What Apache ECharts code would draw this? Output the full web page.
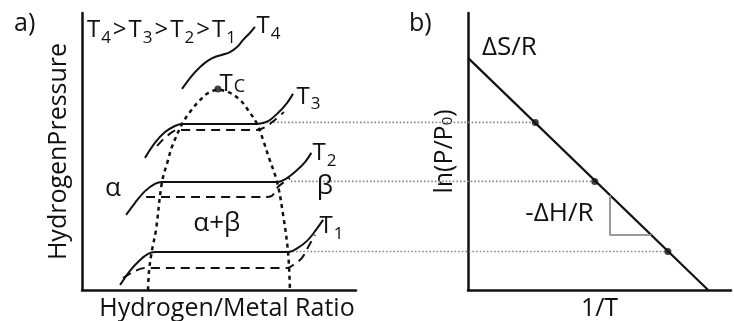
<!DOCTYPE html>
<html>
<head>
<meta charset="utf-8">
<script src="https://cdn.jsdelivr.net/npm/echarts@6/dist/echarts.min.js"></script>
<style>
html,body{margin:0;padding:0;background:#fff}
#c{width:734px;height:321px}
</style>
</head>
<body>
<div id="c"></div>
<script>
// ---- a) pressure–composition isotherms (H/M ratio 0–1, pressure 0–1, schematic) ----
const t4Isotherm = [[0.365,0.726],[0.400,0.772],[0.431,0.805],[0.460,0.828],[0.485,0.841],[0.515,0.850],[0.540,0.859],[0.565,0.876],[0.588,0.903],[0.610,0.925],[0.631,0.950]];

const t3Absorb = [[0.230,0.477],[0.266,0.531],[0.303,0.570],[0.339,0.592],[0.365,0.599],[0.639,0.599],[0.679,0.610],[0.715,0.639],[0.748,0.675],[0.770,0.708]];
const t3Desorb = [[0.274,0.520],[0.310,0.556],[0.350,0.578],[0.380,0.578],[0.639,0.578],[0.668,0.588],[0.704,0.614],[0.737,0.643]];

const t2Absorb = [[0.161,0.271],[0.193,0.314],[0.230,0.357],[0.266,0.383],[0.292,0.390],[0.712,0.390],[0.748,0.404],[0.785,0.433],[0.814,0.462],[0.837,0.495]];
const t2Desorb = [[0.234,0.336],[0.670,0.336],[0.693,0.340],[0.715,0.372],[0.759,0.404]];

const t1Absorb = [[0.139,0.018],[0.175,0.069],[0.212,0.108],[0.241,0.130],[0.266,0.137],[0.752,0.137],[0.788,0.152],[0.825,0.181],[0.854,0.217],[0.880,0.253]];
const t1Desorb = [[0.150,0.043],[0.186,0.065],[0.230,0.079],[0.748,0.079],[0.776,0.094],[0.803,0.116],[0.828,0.160],[0.850,0.199]];

// two-phase boundary (miscibility gap) with the critical point on top
const phaseBoundary = [[0.241,0.000],[0.245,0.072],[0.255,0.141],[0.270,0.217],[0.292,0.390],[0.314,0.469],[0.328,0.516],[0.365,0.599],[0.394,0.643],[0.431,0.686],[0.460,0.711],[0.496,0.722],[0.533,0.715],[0.577,0.686],[0.606,0.650],[0.639,0.599],[0.661,0.542],[0.679,0.487],[0.712,0.390],[0.734,0.271],[0.752,0.137],[0.759,0.000]];
const criticalPoint = [[0.496,0.726]];

// ---- b) van 't Hoff plot: ln(P/P0) against 1/T ----
const vantHoffLine = [[0.000,0.838],[0.913,0.000]];
const plateauPoints = [[0.256,0.605],[0.482,0.392],[0.760,0.139]];   // T3, T2, T1
const slopeTriangle = [[0.540,0.342],[0.540,0.199],[0.696,0.199]];

// where each dotted guide leaves its isotherm (H/M ratio), same order as plateauPoints
const guideStartX = [0.660, 0.762, 0.742];

const FONT = "'Open Sans', sans-serif";
const INK = '#111';

const richStyles = {
  m: { fontSize: 24, fontFamily: FONT, color: INK, lineHeight: 28, verticalAlign: 'bottom' },
  g: { fontSize: 24, fontFamily: FONT, color: INK, lineHeight: 28, verticalAlign: 'bottom', padding: [0, 2, 0, 2] },
  w: { fontSize: 26, fontFamily: FONT, color: INK, lineHeight: 28, verticalAlign: 'bottom' },
  s: { fontSize: 17, fontFamily: FONT, color: INK, lineHeight: 15, verticalAlign: 'bottom', padding: [0, 0, -4, 1] },
  c: { fontSize: 18, fontFamily: FONT, color: INK, lineHeight: 21, verticalAlign: 'bottom', padding: [0, 0, 0, 1] }
};

// label text and anchor (left-middle) in each panel's data units
const labelsA = [
  { text: '{m|T}{s|4}{g|>}{m|T}{s|3}{g|>}{m|T}{s|2}{g|>}{m|T}{s|1}', at: [0.018, 0.944] },
  { text: '{m|T}{s|4}', at: [0.637, 0.958] },
  { text: '{m|T}{c|C}', at: [0.502, 0.752] },
  { text: '{m|T}{s|3}', at: [0.783, 0.705] },
  { text: '{m|T}{s|2}', at: [0.841, 0.500] },
  { text: '{m|T}{s|1}', at: [0.867, 0.237] },
  { text: '{w|α}', at: [0.084, 0.370] },
  { text: '{w|β}', at: [0.857, 0.377] },
  { text: '{w|α+β}', at: [0.406, 0.244] }
];
const labelsB = [
  { text: '{w|ΔS/R}', at: [0.053, 0.877] },
  { text: '{w|-ΔH/R}', at: [0.218, 0.278] }
];

const chart = echarts.init(document.getElementById('c'), null, { renderer: 'canvas' });

function axisPair(gridIndex, xName, yName, yGap, xPad) {
  const line = { show: true, lineStyle: { color: INK, width: 2.5 } };
  return {
    x: {
      type: 'value', gridIndex, min: 0, max: 1,
      axisLine: line, axisTick: { show: false }, axisLabel: { show: false }, splitLine: { show: false },
      name: xName, nameLocation: 'middle', nameGap: 6,
      nameTextStyle: { fontFamily: FONT, fontSize: 25, color: INK, padding: [0, 0, 0, xPad] }
    },
    y: {
      type: 'value', gridIndex, min: 0, max: 1,
      axisLine: line, axisTick: { show: false }, axisLabel: { show: false }, splitLine: { show: false },
      name: yName, nameLocation: 'middle', nameGap: yGap, nameRotate: 90,
      nameTextStyle: {
        fontFamily: FONT, fontSize: 25, color: INK,
        rich: { n: { fontFamily: FONT, fontSize: 25, color: INK }, s: { fontFamily: FONT, fontSize: 15, color: INK, padding: [0,0,-6,0] } }
      }
    }
  };
}
const axA = axisPair(0, 'Hydrogen/Metal Ratio', 'HydrogenPressure', 11, 16);
const axB = axisPair(1, '1/T', '{n|ln(P/P}{s|0}{n|)}', 11, 0);

function curve(data, gi, width, dash) {
  return {
    type: 'line', xAxisIndex: gi, yAxisIndex: gi, data, smooth: 0.35,
    symbol: 'none', silent: true, animation: false,
    lineStyle: { color: INK, width, type: dash || 'solid' }
  };
}
function labelSeries(list, gi) {
  return {
    type: 'scatter', xAxisIndex: gi, yAxisIndex: gi, symbolSize: 0, silent: true, animation: false,
    data: list.map(l => ({ value: l.at, label: { formatter: l.text } })),
    label: {
      show: true, position: [0, 0], align: 'left', verticalAlign: 'middle',
      fontFamily: FONT, fontSize: 24, color: INK, textBorderWidth: 0, opacity: 1,
      rich: richStyles
    },
    emphasis: { disabled: true }
  };
}

const option = {
  animation: false,
  backgroundColor: '#fff',
  title: [
    { text: 'a)', left: 9, top: 6, textStyle: { fontFamily: FONT, fontSize: 25, fontWeight: 'normal', color: INK } },
    { text: 'b)', left: 404, top: 6, textStyle: { fontFamily: FONT, fontSize: 25, fontWeight: 'normal', color: INK } }
  ],
  grid: [
    { left: 82, right: 378, top: 13, bottom: 31, outerBoundsMode: 'none', containLabel: false },
    { left: 468, right: 3, top: 13, bottom: 31, outerBoundsMode: 'none', containLabel: false }
  ],
  xAxis: [axA.x, axB.x],
  yAxis: [axA.y, axB.y],
  series: [
    curve(phaseBoundary, 0, 2.5, [4, 4]),
    curve(t4Isotherm, 0, 2),
    curve(t3Absorb, 0, 2),
    curve(t3Desorb, 0, 2, [9, 6]),
    curve(t2Absorb, 0, 2),
    curve(t2Desorb, 0, 2, [9, 6]),
    curve(t1Absorb, 0, 2),
    curve(t1Desorb, 0, 2, [9, 6]),
    {
      type: 'scatter', xAxisIndex: 0, yAxisIndex: 0, data: criticalPoint,
      symbol: 'circle', symbolSize: 7, itemStyle: { color: INK }, silent: true, animation: false
    },
    labelSeries(labelsA, 0),
    {
      type: 'line', xAxisIndex: 1, yAxisIndex: 1, data: vantHoffLine, symbol: 'none', silent: true,
      lineStyle: { color: INK, width: 2.2 }
    },
    {
      type: 'line', xAxisIndex: 1, yAxisIndex: 1, data: slopeTriangle, symbol: 'none', silent: true,
      lineStyle: { color: '#9a9a9a', width: 2 }
    },
    {
      type: 'scatter', xAxisIndex: 1, yAxisIndex: 1, data: plateauPoints, z: 5,
      symbol: 'circle', symbolSize: 7, itemStyle: { color: INK }, silent: true
    },
    labelSeries(labelsB, 1)
  ]
};
chart.setOption(option);

// dotted guides carrying each plateau pressure across to the van 't Hoff plot
const guides = plateauPoints.map((p, i) => {
  const from = chart.convertToPixel({ gridIndex: 0 }, [guideStartX[i], p[1]]);
  const to = chart.convertToPixel({ gridIndex: 1 }, p);
  return {
    type: 'line', z: 1, silent: true,
    shape: { x1: from[0], y1: from[1], x2: to[0], y2: to[1] },
    style: { stroke: '#888', lineWidth: 1.6, lineDash: [1.6, 2] }
  };
});
chart.setOption({ graphic: guides });
</script>
</body>
</html>
